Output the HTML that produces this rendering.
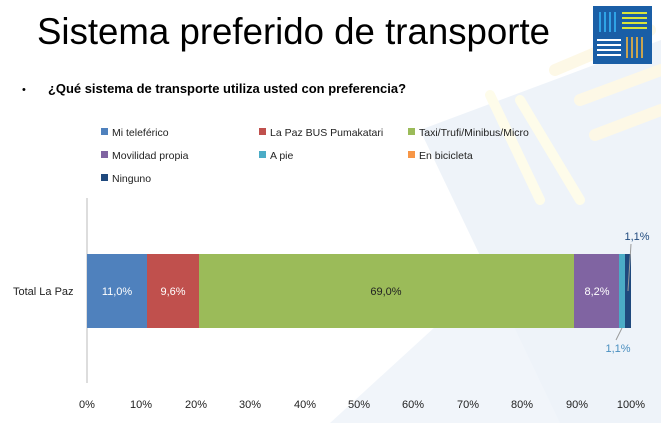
<html><body style="margin:0;width:661px;height:423px;overflow:hidden;background:#fff;font-family:'Liberation Sans',sans-serif;position:relative">
<svg width="661" height="423" style="position:absolute;left:0;top:0">
<polygon points="330,423 661,120 661,423" fill="#f1f5fa"/>
<polygon points="420,130 661,40 661,423 560,423" fill="#eef3f9"/>
<g stroke="#fdf8e6" stroke-width="12" stroke-linecap="round">
<line x1="555" y1="70" x2="650" y2="30"/><line x1="580" y1="100" x2="661" y2="70"/><line x1="595" y1="135" x2="661" y2="110"/>
</g>
<g stroke="#fefcea" stroke-width="10" stroke-linecap="round">
<line x1="520" y1="100" x2="580" y2="200"/><line x1="490" y1="95" x2="540" y2="200"/>
</g>
<rect x="593" y="6" width="59" height="58" fill="#1a5ea6"/>
<g stroke="#2fa3e6" stroke-width="2"><line x1="600" y1="12" x2="600" y2="32"/><line x1="605" y1="12" x2="605" y2="32"/><line x1="610" y1="12" x2="610" y2="32"/><line x1="615" y1="12" x2="615" y2="32"/></g>
<g stroke="#d9e33a" stroke-width="2"><line x1="622" y1="13" x2="647" y2="13"/><line x1="622" y1="18" x2="647" y2="18"/><line x1="622" y1="23" x2="647" y2="23"/><line x1="622" y1="28" x2="647" y2="28"/></g>
<g stroke="#ffffff" stroke-width="2"><line x1="597" y1="40" x2="621" y2="40"/><line x1="597" y1="45" x2="621" y2="45"/><line x1="597" y1="50" x2="621" y2="50"/><line x1="597" y1="55" x2="621" y2="55"/></g>
<g stroke="#c9a450" stroke-width="2"><line x1="627" y1="37" x2="627" y2="58"/><line x1="632" y1="37" x2="632" y2="58"/><line x1="637" y1="37" x2="637" y2="58"/><line x1="642" y1="37" x2="642" y2="58"/></g>
<text x="37" y="44" font-size="37" textLength="513" lengthAdjust="spacingAndGlyphs" fill="#000">Sistema preferido de transporte</text>
<text x="22" y="93" font-size="11">•</text>
<text x="48" y="93" font-size="12.5" font-weight="bold" textLength="358" lengthAdjust="spacingAndGlyphs">¿Qué sistema de transporte utiliza usted con preferencia?</text>
<g font-size="10.5" fill="#222">
<rect x="101" y="128" width="7" height="7" fill="#4f81bd"/><text x="112" y="136">Mi teleférico</text>
<rect x="259" y="128" width="7" height="7" fill="#c0504d"/><text x="270" y="136">La Paz BUS Pumakatari</text>
<rect x="408" y="128" width="7" height="7" fill="#9bbb59"/><text x="419" y="136">Taxi/Trufi/Minibus/Micro</text>
<rect x="101" y="151" width="7" height="7" fill="#8064a2"/><text x="112" y="159">Movilidad propia</text>
<rect x="259" y="151" width="7" height="7" fill="#4bacc6"/><text x="270" y="159">A pie</text>
<rect x="408" y="151" width="7" height="7" fill="#f79646"/><text x="419" y="159">En bicicleta</text>
<rect x="101" y="174" width="7" height="7" fill="#1f497d"/><text x="112" y="182">Ninguno</text>
</g>
<line x1="87" y1="198" x2="87" y2="383" stroke="#bbb"/>
<rect x="87" y="254" width="60" height="74" fill="#4f81bd"/>
<rect x="147" y="254" width="52" height="74" fill="#c0504d"/>
<rect x="199" y="254" width="375" height="74" fill="#9bbb59"/>
<rect x="574" y="254" width="45" height="74" fill="#8064a2"/>
<rect x="619" y="254" width="6" height="74" fill="#4bacc6"/>
<rect x="625" y="254" width="6" height="74" fill="#1f497d"/>
<g font-size="11" fill="#fff" text-anchor="middle">
<text x="117" y="295">11,0%</text><text x="173" y="295">9,6%</text>
<text x="597" y="295">8,2%</text></g>
<text x="386" y="295" font-size="11" fill="#222" text-anchor="middle">69,0%</text>
<line x1="631" y1="244" x2="628" y2="291" stroke="#999"/>
<line x1="622" y1="328" x2="616" y2="340" stroke="#999"/>
<text x="637" y="240" font-size="11" fill="#1f497d" text-anchor="middle">1,1%</text>
<text x="618" y="352" font-size="11" fill="#4a8fc0" text-anchor="middle">1,1%</text>
<text x="13" y="295" font-size="11" fill="#222">Total La Paz</text>
<g font-size="11" fill="#222" text-anchor="middle">
<text x="87" y="408">0%</text><text x="141" y="408">10%</text><text x="196" y="408">20%</text><text x="250" y="408">30%</text><text x="305" y="408">40%</text><text x="359" y="408">50%</text><text x="413" y="408">60%</text><text x="468" y="408">70%</text><text x="522" y="408">80%</text><text x="577" y="408">90%</text><text x="631" y="408">100%</text>
</g>
</svg>
</body></html>
